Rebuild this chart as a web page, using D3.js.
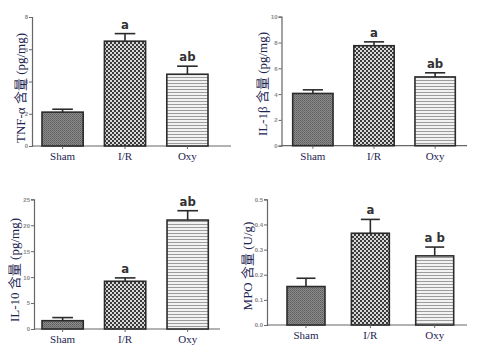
<!DOCTYPE html>
<html>
<head>
<meta charset="utf-8">
<script src="https://cdn.jsdelivr.net/npm/d3@7"></script>
<style>
  body { margin: 0; background: #fff; }
  svg { display: block; }
</style>
</head>
<body>
<div id="chart"></div>
<script>
// groups shown in every panel
const groups = ["Sham", "I/R", "Oxy"];

// values (mean, upper error bar end)
const tnfMean = [2.1, 6.5, 4.45];
const tnfErr = [2.28, 6.97, 4.95];
const tnfMarks = ["", "a", "ab"];

const il1Mean = [4.05, 7.75, 5.33];
const il1Err = [4.33, 8.05, 5.65];
const il1Marks = ["", "a", "ab"];

const il10Mean = [1.6, 9.2, 21.0];
const il10Err = [2.2, 9.85, 22.8];
const il10Marks = ["", "a", "ab"];

const mpoMean = [0.153, 0.365, 0.275];
const mpoErr = [0.186, 0.42, 0.31];
const mpoMarks = ["", "a", "a b"];

const tnfTicks = [0, 2, 4, 6, 8];
const il1Ticks = [0, 2, 4, 6, 8, 10];
const il10Ticks = [0, 5, 10, 15, 20, 25];
const mpoTicks = [0, 0.1, 0.2, 0.3, 0.4, 0.5];

const W = 477, H = 349;

const svg = d3.select("#chart").append("svg")
  .attr("width", W).attr("height", H);

// bar fill patterns
const defs = svg.append("defs");

// Sham: fine dark gray dots
let p1 = defs.append("pattern").attr("id", "pat-sham")
  .attr("width", 2).attr("height", 2).attr("patternUnits", "userSpaceOnUse");
p1.append("rect").attr("width", 2).attr("height", 2).attr("fill", "#8a8a8a");
p1.append("rect").attr("width", 1).attr("height", 1).attr("fill", "#5e5e5e");
p1.append("rect").attr("x", 1).attr("y", 1).attr("width", 1).attr("height", 1).attr("fill", "#6e6e6e");

// I/R: checkerboard
let p2 = defs.append("pattern").attr("id", "pat-ir")
  .attr("width", 4).attr("height", 4).attr("patternUnits", "userSpaceOnUse");
p2.append("rect").attr("width", 4).attr("height", 4).attr("fill", "#d8d8d8");
p2.append("rect").attr("width", 2).attr("height", 2).attr("fill", "#3a3a3a");
p2.append("rect").attr("x", 2).attr("y", 2).attr("width", 2).attr("height", 2).attr("fill", "#3a3a3a");

// Oxy: horizontal stripes
let p3 = defs.append("pattern").attr("id", "pat-oxy")
  .attr("width", 4).attr("height", 3).attr("patternUnits", "userSpaceOnUse");
p3.append("rect").attr("width", 4).attr("height", 3).attr("fill", "#f2f2f2");
p3.append("rect").attr("y", 2).attr("width", 4).attr("height", 1).attr("fill", "#9c9c9c");

const fills = ["url(#pat-sham)", "url(#pat-ir)", "url(#pat-oxy)"];

const panels = [
  { title: "TNF-α 含量 (pg/mg)", mean: tnfMean, err: tnfErr, marks: tnfMarks, ticks: tnfTicks, max: 8,
    axisX: 32, axisEnd: 231, top: 17, bottom: 146, barL: 42, barR: 208, pad: 0.34, titleX: 22, titleY: 88, fmt: d3.format("d") },
  { title: "IL-1β 含量 (pg/mg)", mean: il1Mean, err: il1Err, marks: il1Marks, ticks: il1Ticks, max: 10,
    axisX: 281.5, axisEnd: 467, top: 16.7, bottom: 145.7, barL: 292.7, barR: 455.3, pad: 0.34, titleX: 264, titleY: 84, fmt: d3.format("d") },
  { title: "IL-10 含量 (pg/mg)", mean: il10Mean, err: il10Err, marks: il10Marks, ticks: il10Ticks, max: 25,
    axisX: 34, axisEnd: 220, top: 199.3, bottom: 329, barL: 42, barR: 208.3, pad: 0.34, titleX: 16, titleY: 270, fmt: d3.format("d") },
  { title: "MPO 含量 (U/g)", mean: mpoMean, err: mpoErr, marks: mpoMarks, ticks: mpoTicks, max: 0.5,
    axisX: 267, axisEnd: 467, top: 199.3, bottom: 325, barL: 287, barR: 453.7, pad: 0.41, titleX: 249, titleY: 266, fmt: d3.format(".1f") }
];

panels.forEach((p) => {
  const g = svg.append("g");

  const x = d3.scaleBand().domain(groups).range([p.barL, p.barR]).paddingInner(p.pad).paddingOuter(0);
  const y = d3.scaleLinear().domain([0, p.max]).range([p.bottom, p.top]);

  // y axis
  const yAxis = g.append("g")
    .attr("transform", `translate(${p.axisX},0)`)
    .call(d3.axisLeft(y).tickValues(p.ticks).tickSize(3).tickPadding(1).tickFormat(p.fmt));
  yAxis.select(".domain").attr("stroke", "#666").attr("stroke-width", 1.2);
  yAxis.selectAll(".tick line").attr("stroke", "#666");
  yAxis.selectAll(".tick text")
    .attr("fill", "#8a8a8a")
    .attr("font-family", "'Liberation Sans', Arial, sans-serif")
    .attr("font-weight", "bold")
    .attr("font-size", "6px");

  // x axis line
  g.append("line")
    .attr("x1", p.axisX).attr("x2", p.axisEnd)
    .attr("y1", p.bottom).attr("y2", p.bottom)
    .attr("stroke", "#666").attr("stroke-width", 1.2);

  // bars
  g.selectAll(".bar")
    .data(groups)
    .enter()
    .append("rect")
    .attr("class", "bar")
    .attr("x", (d) => x(d))
    .attr("y", (d, i) => y(p.mean[i]))
    .attr("width", x.bandwidth())
    .attr("height", (d, i) => y(0) - y(p.mean[i]))
    .attr("fill", (d, i) => fills[i])
    .attr("stroke", "#2b2b2b")
    .attr("stroke-width", 1.6);

  // error bars (upper only)
  const eb = g.selectAll(".err").data(groups).enter().append("g").attr("class", "err");
  eb.append("line")
    .attr("x1", (d) => x(d) + x.bandwidth() / 2)
    .attr("x2", (d) => x(d) + x.bandwidth() / 2)
    .attr("y1", (d, i) => y(p.mean[i]))
    .attr("y2", (d, i) => y(p.err[i]))
    .attr("stroke", "#2b2b2b").attr("stroke-width", 1.6);
  eb.append("line")
    .attr("x1", (d) => x(d) + x.bandwidth() / 4)
    .attr("x2", (d) => x(d) + x.bandwidth() * 3 / 4)
    .attr("y1", (d, i) => y(p.err[i]))
    .attr("y2", (d, i) => y(p.err[i]))
    .attr("stroke", "#2b2b2b").attr("stroke-width", 1.6);

  // significance letters
  g.selectAll(".mark")
    .data(groups)
    .enter()
    .append("text")
    .attr("class", "mark")
    .attr("x", (d) => x(d) + x.bandwidth() / 2)
    .attr("y", (d, i) => y(p.err[i]) - 5)
    .attr("text-anchor", "middle")
    .attr("font-family", "'Liberation Sans Narrow', 'DejaVu Sans Condensed', sans-serif")
    .attr("font-weight", "bold")
    .attr("font-size", "13px")
    .attr("fill", "#333")
    .text((d, i) => p.marks[i]);

  // x ticks and category labels
  g.selectAll(".xt")
    .data(groups)
    .enter()
    .append("line")
    .attr("x1", (d) => x(d) + x.bandwidth() / 2)
    .attr("x2", (d) => x(d) + x.bandwidth() / 2)
    .attr("y1", p.bottom)
    .attr("y2", p.bottom + 3)
    .attr("stroke", "#666");

  g.selectAll(".xl")
    .data(groups)
    .enter()
    .append("text")
    .attr("x", (d) => x(d) + x.bandwidth() / 2)
    .attr("y", p.bottom + 14)
    .attr("text-anchor", "middle")
    .attr("font-family", "'Liberation Serif', 'Times New Roman', serif")
    .attr("font-size", "11px")
    .attr("fill", "#1c2550")
    .text((d) => d);

  // y title
  g.append("text")
    .attr("transform", `translate(${p.titleX},${p.titleY}) rotate(-90)`)
    .attr("text-anchor", "middle")
    .attr("dominant-baseline", "middle")
    .attr("font-family", "'Liberation Serif', 'Noto Sans CJK SC', serif")
    .attr("font-size", "13px")
    .attr("fill", "#1c2550")
    .text(p.title);
});
</script>
</body>
</html>
